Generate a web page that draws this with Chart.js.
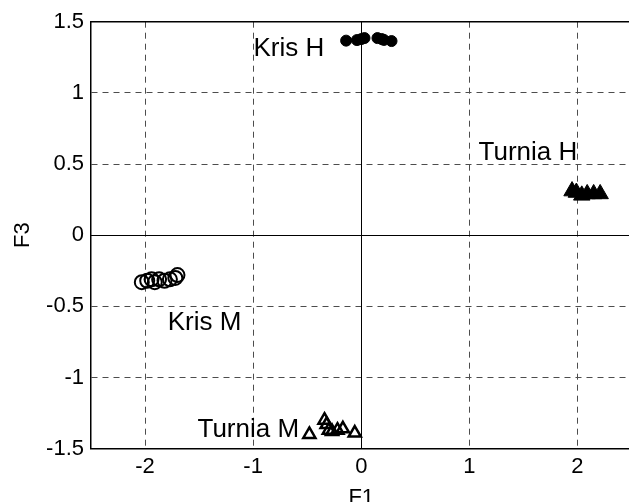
<!DOCTYPE html>
<html>
<head>
<meta charset="utf-8">
<script src="https://cdn.jsdelivr.net/npm/chart.js@4/dist/chart.umd.min.js"></script>
<style>
  html, body { margin: 0; padding: 0; background: #fff; overflow: hidden; }
  #wrap { width: 642px; height: 502px; }
  #chart { display: block; width: 642px; height: 502px; }
</style>
</head>
<body>
<div id="wrap"><canvas id="chart" width="642" height="502"></canvas></div>
<script>
// Point groups (F1, F3)
const krisH_x = [-0.14, -0.04, 0.00, 0.03, 0.15, 0.19, 0.21, 0.28];
const krisH_y = [1.367, 1.371, 1.378, 1.385, 1.385, 1.378, 1.372, 1.364];

const krisM_x = [-2.03, -1.98, -1.94, -1.91, -1.87, -1.82, -1.77, -1.72, -1.70];
const krisM_y = [-0.33, -0.32, -0.31, -0.33, -0.31, -0.32, -0.31, -0.30, -0.28];

const turniaH_x = [1.95, 1.99, 2.04, 2.09, 2.15, 2.21];
const turniaH_y = [0.31, 0.30, 0.28, 0.29, 0.29, 0.29];

const turniaM_x = [-0.48, -0.34, -0.32, -0.30, -0.27, -0.22, -0.17, -0.06];
const turniaM_y = [-1.40, -1.30, -1.33, -1.37, -1.38, -1.37, -1.36, -1.39];

// Group labels, placed at (F1, F3) of text baseline start
const groupNames = ["Kris H", "Turnia H", "Kris M", "Turnia M"];
const groupLabelX = [-0.997, 1.085, -1.79, -1.515];
const groupLabelY = [1.259, 0.528, -0.666, -1.416];

const xTicks = [-2, -1, 0, 1, 2];
const yTicks = [-1.5, -1, -0.5, 0, 0.5, 1, 1.5];

const FONT = "'Liberation Sans', Arial, sans-serif";

function zip(xs, ys) {
  return xs.map((x, i) => ({ x: x, y: ys[i] }));
}

// solid zero lines + top border, behind the markers
const frameLines = {
  id: "frameLines",
  beforeDatasetsDraw(chart) {
    const { ctx, chartArea, scales } = chart;
    ctx.save();
    ctx.strokeStyle = "#000";
    ctx.lineWidth = 1;
    ctx.setLineDash([]);
    const x0 = Math.round(scales.x.getPixelForValue(0)) + 0.5;
    const y0 = Math.round(scales.y.getPixelForValue(0)) + 0.5;
    ctx.beginPath();
    ctx.moveTo(x0, chartArea.top);
    ctx.lineTo(x0, chartArea.bottom);
    ctx.moveTo(chartArea.left, y0);
    ctx.lineTo(chartArea.right, y0);
    ctx.stroke();
    ctx.lineWidth = 1.5;
    ctx.beginPath();
    ctx.moveTo(chartArea.left, chartArea.top);
    ctx.lineTo(chartArea.right, chartArea.top);
    ctx.lineTo(chartArea.right, chartArea.bottom);
    ctx.stroke();
    ctx.restore();
  }
};

const groupLabels = {
  id: "groupLabels",
  afterDatasetsDraw(chart) {
    const { ctx, scales } = chart;
    ctx.save();
    ctx.fillStyle = "#000";
    ctx.font = "26px " + FONT;
    ctx.textAlign = "left";
    ctx.textBaseline = "alphabetic";
    groupNames.forEach((name, i) => {
      ctx.fillText(name, scales.x.getPixelForValue(groupLabelX[i]), scales.y.getPixelForValue(groupLabelY[i]));
    });
    ctx.restore();
  }
};

function gridColor(ctx) {
  const v = ctx.tick ? ctx.tick.value : null;
  if (v === 0 || Math.abs(v) === 1.5) return "rgba(0,0,0,0)";
  return "#4d4d4d";
}

new Chart(document.getElementById("chart"), {
  type: "scatter",
  data: {
    datasets: [
      {
        label: "Kris H",
        data: zip(krisH_x, krisH_y),
        pointStyle: "circle",
        pointRadius: 5.5,
        backgroundColor: "#000",
        borderColor: "#000",
        borderWidth: 1
      },
      {
        label: "Kris M",
        data: zip(krisM_x, krisM_y),
        pointStyle: "circle",
        pointRadius: 7,
        backgroundColor: "rgba(0,0,0,0)",
        borderColor: "#000",
        borderWidth: 2
      },
      {
        label: "Turnia H",
        data: zip(turniaH_x, turniaH_y),
        pointStyle: "triangle",
        pointRadius: 9.5,
        backgroundColor: "#000",
        borderColor: "#000",
        borderWidth: 1
      },
      {
        label: "Turnia M",
        data: zip(turniaM_x, turniaM_y),
        pointStyle: "triangle",
        pointRadius: 7,
        backgroundColor: "rgba(0,0,0,0)",
        borderColor: "#000",
        borderWidth: 2.5
      }
    ]
  },
  options: {
    responsive: false,
    animation: false,
    events: [],
    layout: { padding: { top: 21.7, right: 0, left: 0, bottom: 0 } },
    plugins: {
      legend: { display: false },
      tooltip: { enabled: false }
    },
    scales: {
      x: {
        type: "linear",
        min: -2.5,
        max: 2.5,
        afterBuildTicks: s => { s.ticks = xTicks.map(v => ({ value: v })); },
        afterFit: s => { s.height = 53.3; },
        grid: { color: gridColor, lineWidth: 1, drawTicks: false },
        border: { display: true, color: "#000", width: 1.5, dash: [6, 5] },
        ticks: {
          color: "#000",
          font: { family: FONT, size: 22 },
          padding: 5,
          callback: v => String(v)
        },
        title: {
          display: true,
          text: "F1",
          color: "#000",
          font: { family: FONT, size: 22 },
          padding: { top: 0, bottom: -9 }
        }
      },
      y: {
        type: "linear",
        min: -1.5,
        max: 1.5,
        afterBuildTicks: s => { s.ticks = yTicks.map(v => ({ value: v })); },
        afterFit: s => { s.width = 91; },
        grid: { color: gridColor, lineWidth: 1, drawTicks: false },
        border: { display: true, color: "#000", width: 1.5, dash: [6, 5] },
        ticks: {
          color: "#000",
          font: { family: FONT, size: 22 },
          padding: 7,
          callback: v => String(v)
        },
        title: {
          display: true,
          text: "F3",
          color: "#000",
          font: { family: FONT, size: 22 },
          padding: { top: 10, bottom: 0 }
        }
      }
    }
  },
  plugins: [frameLines, groupLabels]
});
</script>
</body>
</html>
